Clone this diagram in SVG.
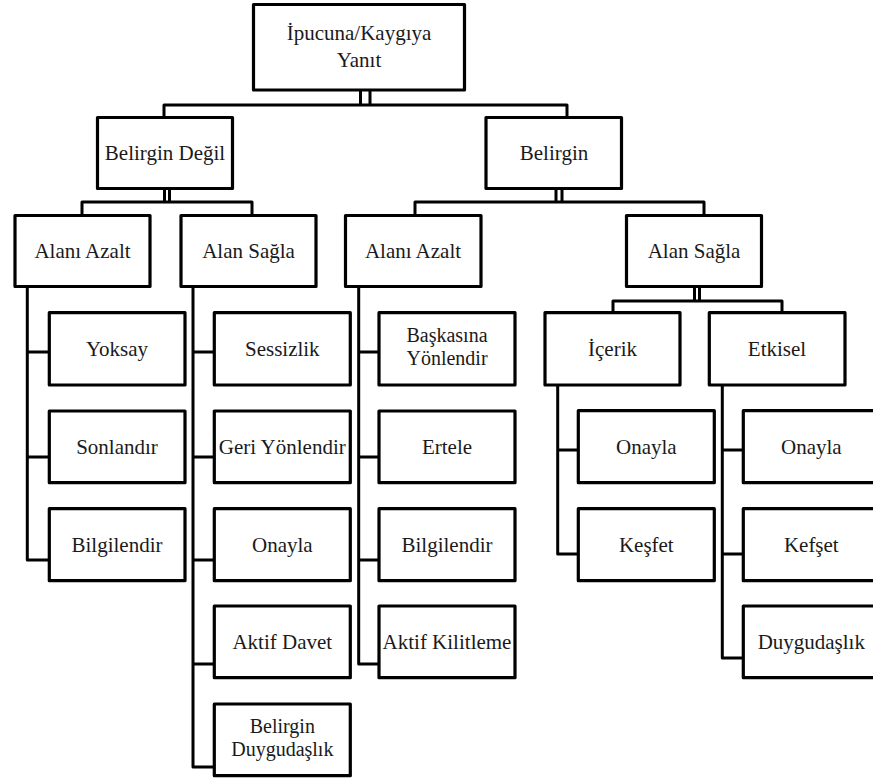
<svg xmlns="http://www.w3.org/2000/svg" width="873" height="778" viewBox="0 0 873 778">
<style>
.box{fill:#fff;stroke:#000;stroke-width:3.2;stroke-linejoin:round}
.conn{fill:none;stroke:#000;stroke-width:3;stroke-linejoin:round}
text{font-family:"Liberation Serif","DejaVu Serif","Noto Serif","Times New Roman",Times,serif;font-size:21px;fill:#1a1a1a;text-anchor:middle}
text.two{font-size:20px}
</style>
<rect width="873" height="778" fill="#fff"/>
<g id="connectors" class="conn">
<path d="M360.5,90 V105 M370,90 V105 M164,117 V105 H567 V117"/>
<path d="M164.5,188 V202 M169.5,188 V202 M82,215 V202 H252 V215"/>
<path d="M556,188 V202 M562,188 V202 M415,215 V202 H704 V215"/>
<path d="M694.5,286 V301 M699.5,286 V301 M613,312 V301 H782 V312"/>
<path d="M27.3,287 V560 H49 M27.3,352 H49 M27.3,457 H49"/>
<path d="M193,287 V767 H214 M193,352 H214 M193,457 H214 M193,560 H214 M193,664 H214"/>
<path d="M358.7,287 V664 H379 M358.7,352 H379 M358.7,457 H379 M358.7,560 H379"/>
<path d="M557.7,385 V554 H578 M557.7,450 H578"/>
<path d="M722.3,385 V658 H743 M722.3,450 H743 M722.3,554 H743"/>
</g>
<g id="root"><rect class="box" x="253.5" y="4.5" width="211" height="85.5"/><text x="359" y="40">İpucuna/Kaygıya</text><text x="359" y="67">Yanıt</text></g>
<g id="belirgin-degil"><rect class="box" x="97.5" y="117.5" width="135" height="71"/><text x="165" y="160">Belirgin Değil</text></g>
<g id="belirgin"><rect class="box" x="486" y="117.5" width="135.5" height="71"/><text x="554" y="160">Belirgin</text></g>
<g id="l-alani-azalt"><rect class="box" x="15" y="215.5" width="135" height="71"/><text x="82.5" y="258">Alanı Azalt</text></g>
<g id="l-alan-sagla"><rect class="box" x="181" y="215.5" width="135" height="71"/><text x="248.5" y="258">Alan Sağla</text></g>
<g id="r-alani-azalt"><rect class="box" x="345.5" y="215.5" width="135.5" height="71"/><text x="413" y="258">Alanı Azalt</text></g>
<g id="r-alan-sagla"><rect class="box" x="626.5" y="215.5" width="135" height="71"/><text x="694" y="258">Alan Sağla</text></g>
<g id="icerik"><rect class="box" x="545" y="312.7" width="135" height="72.3"/><text x="612.5" y="356">İçerik</text></g>
<g id="etkisel"><rect class="box" x="709.3" y="312.7" width="135.7" height="72.3"/><text x="777" y="356">Etkisel</text></g>
<g id="yoksay"><rect class="box" x="49.3" y="312.7" width="135.7" height="72.3"/><text x="117" y="356">Yoksay</text></g>
<g id="sonlandir"><rect class="box" x="49.3" y="411" width="135.7" height="71.7"/><text x="117" y="454">Sonlandır</text></g>
<g id="l-bilgilendir"><rect class="box" x="49.3" y="508.7" width="135.7" height="72"/><text x="117" y="552">Bilgilendir</text></g>
<g id="sessizlik"><rect class="box" x="214.3" y="312.7" width="136" height="72.3"/><text x="282.3" y="356">Sessizlik</text></g>
<g id="geri-yonlendir"><rect class="box" x="214.3" y="411" width="136" height="71.7"/><text x="282.3" y="454">Geri Yönlendir</text></g>
<g id="l-onayla"><rect class="box" x="214.3" y="508.7" width="136" height="72"/><text x="282.3" y="552">Onayla</text></g>
<g id="aktif-davet"><rect class="box" x="214.3" y="606" width="136" height="71.7"/><text x="282.3" y="649">Aktif Davet</text></g>
<g id="belirgin-duygudaslik"><rect class="box" x="214.3" y="704" width="136" height="71.7"/><text class="two" x="282.3" y="733">Belirgin</text><text class="two" x="282.3" y="756">Duygudaşlık</text></g>
<g id="baskasina-yonlendir"><rect class="box" x="379" y="312.7" width="136" height="72.3"/><text class="two" x="447" y="342">Başkasına</text><text class="two" x="447" y="365">Yönlendir</text></g>
<g id="ertele"><rect class="box" x="379" y="411" width="136" height="71.7"/><text x="447" y="454">Ertele</text></g>
<g id="r-bilgilendir"><rect class="box" x="379" y="508.7" width="136" height="72"/><text x="447" y="552">Bilgilendir</text></g>
<g id="aktif-kilitleme"><rect class="box" x="379" y="606" width="136" height="71.7"/><text x="447" y="649">Aktif Kilitleme</text></g>
<g id="icerik-onayla"><rect class="box" x="578.3" y="410.7" width="136" height="72"/><text x="646.3" y="454">Onayla</text></g>
<g id="kesfet"><rect class="box" x="578.3" y="508.7" width="136" height="72"/><text x="646.3" y="552">Keşfet</text></g>
<g id="etkisel-onayla"><rect class="box" x="743.3" y="410.7" width="136" height="72"/><text x="811.3" y="454">Onayla</text></g>
<g id="kefset"><rect class="box" x="743.3" y="508.7" width="136" height="72"/><text x="811.3" y="552">Kefşet</text></g>
<g id="duygudaslik"><rect class="box" x="743.3" y="606" width="136" height="71.7"/><text x="811.3" y="649">Duygudaşlık</text></g>
</svg>
